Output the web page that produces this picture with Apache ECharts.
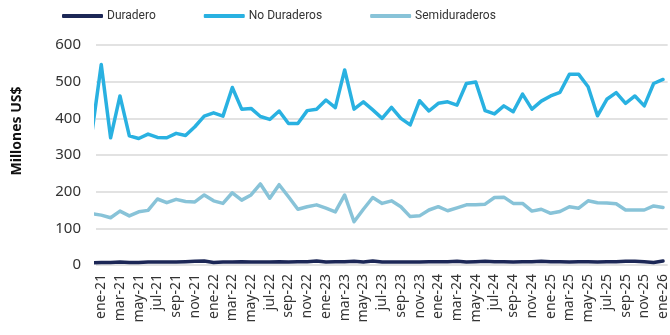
<!DOCTYPE html>
<html>
<head>
<meta charset="utf-8">
<script src="https://cdn.jsdelivr.net/npm/echarts@6/dist/echarts.min.js"></script>
<style>
  html, body { margin: 0; padding: 0; background: #fff; }
  #chart { width: 670px; height: 335px; }
</style>
</head>
<body>
<div id="chart"></div>
<script>
// Monthly series, dic-20 through ene-26 (Millones US$)
const months = [
  'dic-20',
  'ene-21','feb-21','mar-21','abr-21','may-21','jun-21','jul-21','ago-21','sep-21','oct-21','nov-21','dic-21',
  'ene-22','feb-22','mar-22','abr-22','may-22','jun-22','jul-22','ago-22','sep-22','oct-22','nov-22','dic-22',
  'ene-23','feb-23','mar-23','abr-23','may-23','jun-23','jul-23','ago-23','sep-23','oct-23','nov-23','dic-23',
  'ene-24','feb-24','mar-24','abr-24','may-24','jun-24','jul-24','ago-24','sep-24','oct-24','nov-24','dic-24',
  'ene-25','feb-25','mar-25','abr-25','may-25','jun-25','jul-25','ago-25','sep-25','oct-25','nov-25','dic-25',
  'ene-26'
];

const duradero = [
  6,
  7, 7, 8, 7, 7, 8, 8, 8, 8, 9, 10, 11,
  7, 8, 8, 9, 8, 8, 8, 9, 8, 9, 9, 11,
  8, 9, 9, 10, 8, 11, 8, 8, 8, 8, 8, 9,
  9, 9, 10, 8, 9, 10, 9, 9, 8, 9, 9, 10,
  9, 9, 8, 9, 9, 8, 9, 9, 10, 10, 9, 7,
  11
];

const noDuraderos = [
  360,
  547, 347, 461, 352, 345, 357, 348, 347, 359, 353, 377, 406,
  415, 406, 484, 425, 427, 405, 397, 420, 386, 386, 421, 425,
  450, 429, 532, 425, 445, 423, 400, 430, 400, 382, 448, 420,
  441, 445, 436, 495, 499, 421, 412, 434, 418, 466, 425, 447,
  461, 471, 520, 520, 486, 407, 452, 470, 441, 461, 434, 495,
  506
];

const semiduraderos = [
  140,
  136, 129, 147, 134, 145, 149, 180, 170, 179, 173, 172, 191,
  175, 168, 197, 177, 191, 221, 182, 219, 186, 152, 159, 164,
  155, 145, 191, 118, 152, 184, 168, 175, 159, 132, 134, 150,
  159, 148, 156, 164, 164, 166, 184, 185, 168, 168, 147, 152,
  141, 146, 159, 155, 175, 170, 169, 167, 150, 150, 150, 161,
  157
];

// Tick labels every two months, starting at ene-21
const labelIdx = [];
for (let i = 1; i < months.length; i += 2) labelIdx.push(i);

const pairs = arr => arr.map((v, i) => [i, v]);

const chart = echarts.init(document.getElementById('chart'), null, { renderer: 'canvas' });

const lineSeries = (name, data, color) => ({
  name, type: 'line', data: pairs(data),
  showSymbol: false, symbol: 'none',
  lineStyle: { color, width: 3.5, cap: 'round', join: 'round' },
  itemStyle: { color },
  clip: true
});

chart.setOption({
  animation: false,
  textStyle: { fontFamily: 'Noto Sans' },
  legend: {
    left: 57, top: 5,
    icon: 'roundRect', itemWidth: 41, itemHeight: 4, itemGap: 48,
    textStyle: { fontSize: 12, color: '#333', fontFamily: 'Roboto', padding: [0, 0, 0, -1] },
    data: ['Duradero', 'No Duraderos', 'Semiduraderos']
  },
  grid: { left: 96, right: 0, top: 45, bottom: 70 },
  xAxis: {
    type: 'value',
    min: 0.44, max: 61.5,
    axisLine: { show: false },
    axisTick: { show: false },
    splitLine: { show: false },
    axisLabel: {
      customValues: labelIdx,
      rotate: 90,
      margin: 9,
      fontSize: 14,
      color: '#333',
      formatter: v => months[Math.round(v)]
    }
  },
  yAxis: {
    type: 'value',
    min: 0, max: 600, interval: 100,
    axisLine: { show: false },
    axisTick: { show: false },
    splitLine: { lineStyle: { color: '#d9d9d9', width: 1.5 } },
    axisLabel: { fontSize: 15, color: '#333', margin: 15 }
  },
  graphic: [{
    type: 'text',
    x: 17, y: 131,
    rotation: Math.PI / 2,
    style: {
      text: 'Millones US$',
      fontFamily: 'Noto Sans',
      fontWeight: 'bold',
      fontSize: 14,
      fill: '#111',
      align: 'center',
      verticalAlign: 'middle'
    }
  }],
  series: [
    lineSeries('Semiduraderos', semiduraderos, '#88c3d8'),
    lineSeries('No Duraderos', noDuraderos, '#29b1e1'),
    lineSeries('Duradero', duradero, '#1c2756')
  ]
});
</script>
</body>
</html>
